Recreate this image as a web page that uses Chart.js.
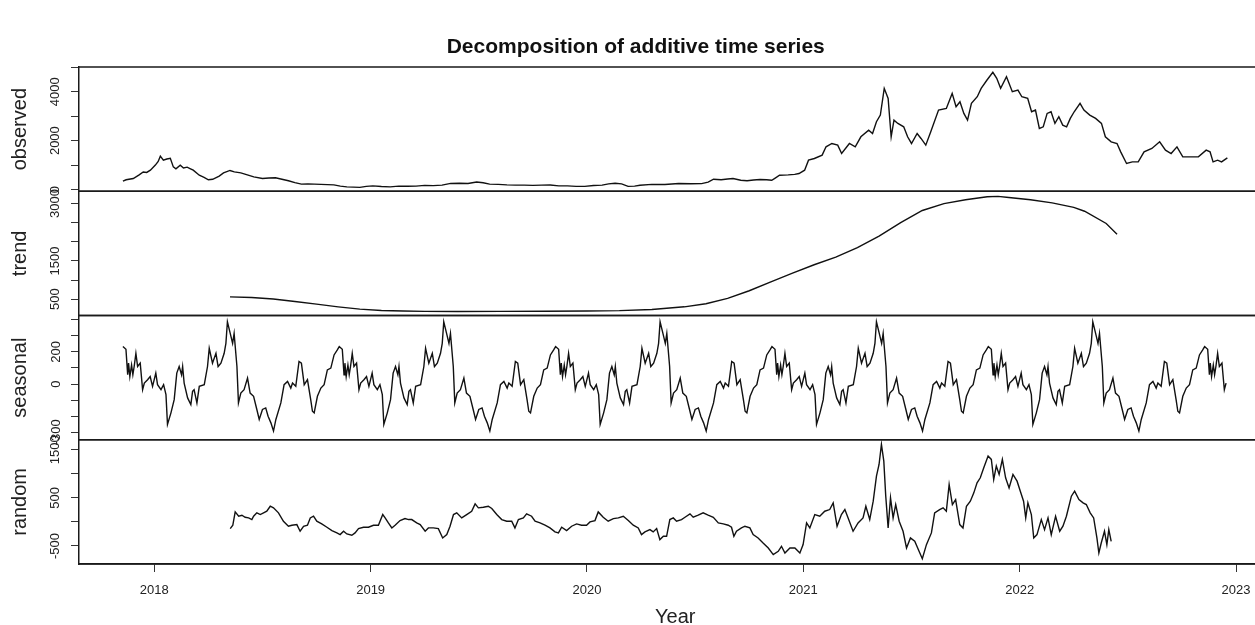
<!DOCTYPE html>
<html><head><meta charset="utf-8">
<script src="https://cdn.jsdelivr.net/npm/chart.js@4.4.1/dist/chart.umd.min.js"></script>
<style>html,body{margin:0;padding:0;overflow:hidden;background:#fff;width:1255px;height:625px}canvas{display:block}</style>
</head><body><canvas id="c" width="1304" height="625"></canvas>
<script>
// ---------- data ----------
const obsTime = [2017.855,2017.870,2017.903,2017.930,2017.949,2017.965,2017.982,2018.005,2018.018,2018.028,2018.042,2018.058,2018.074,2018.088,2018.100,2018.120,2018.135,2018.152,2018.165,2018.180,2018.208,2018.230,2018.250,2018.270,2018.300,2018.320,2018.350,2018.370,2018.400,2018.430,2018.460,2018.500,2018.530,2018.560,2018.590,2018.620,2018.650,2018.680,2018.710,2018.740,2018.770,2018.800,2018.830,2018.860,2018.890,2018.920,2018.950,2018.980,2019.010,2019.050,2019.090,2019.130,2019.170,2019.210,2019.250,2019.290,2019.330,2019.370,2019.410,2019.450,2019.490,2019.520,2019.550,2019.590,2019.630,2019.670,2019.710,2019.750,2019.790,2019.830,2019.870,2019.910,2019.950,2019.990,2020.030,2020.070,2020.100,2020.130,2020.160,2020.190,2020.220,2020.245,2020.300,2020.360,2020.424,2020.480,2020.530,2020.560,2020.585,2020.620,2020.650,2020.675,2020.711,2020.740,2020.770,2020.800,2020.830,2020.854,2020.870,2020.890,2020.930,2020.960,2020.980,2021.006,2021.024,2021.051,2021.087,2021.105,2021.132,2021.159,2021.177,2021.213,2021.240,2021.266,2021.302,2021.320,2021.338,2021.356,2021.374,2021.392,2021.406,2021.419,2021.437,2021.464,2021.482,2021.500,2021.526,2021.544,2021.566,2021.589,2021.625,2021.661,2021.688,2021.706,2021.724,2021.742,2021.759,2021.777,2021.804,2021.822,2021.849,2021.876,2021.894,2021.912,2021.939,2021.966,2021.992,2022.010,2022.037,2022.055,2022.073,2022.091,2022.109,2022.127,2022.145,2022.163,2022.181,2022.199,2022.217,2022.234,2022.252,2022.279,2022.297,2022.324,2022.351,2022.378,2022.396,2022.423,2022.450,2022.467,2022.494,2022.521,2022.548,2022.575,2022.611,2022.647,2022.674,2022.700,2022.727,2022.754,2022.790,2022.826,2022.862,2022.880,2022.894,2022.915,2022.933,2022.960];
const obsValue = [340,400,450,600,720,700,790,1000,1150,1365,1200,1250,1280,926,850,996,880,914,860,791,586,500,400,420,550,680,780,720,680,600,520,450,470,480,420,360,280,220,230,220,210,200,190,140,110,100,90,130,150,125,110,140,135,140,170,160,180,250,260,250,310,280,220,210,190,180,180,170,180,185,150,150,130,130,165,180,230,260,230,130,140,176,210,205,245,235,240,300,422,400,430,449,381,360,390,410,400,381,470,586,600,620,654,791,1200,1269,1406,1747,1884,1816,1474,1884,1747,2157,2430,2294,2772,3045,4138,3728,2157,2840,2704,2567,2157,1884,2294,2089,1816,2362,3250,3318,3933,3387,3592,3113,2840,3523,3796,4138,4480,4794,4548,4138,4616,4001,4070,3796,3728,3181,3250,2499,2567,3113,3181,2704,2977,2635,2567,2909,3181,3523,3250,3045,2909,2704,2157,1952,1884,1542,1064,1133,1133,1542,1679,1952,1610,1474,1747,1337,1337,1337,1610,1542,1133,1201,1133,1296];

const trendTime  = [2018.35,2018.45,2018.55,2018.65,2018.75,2018.85,2018.95,2019.05,2019.15,2019.25,2019.40,2019.60,2019.80,2020.00,2020.15,2020.30,2020.45,2020.55,2020.65,2020.75,2020.85,2020.95,2021.05,2021.15,2021.25,2021.35,2021.45,2021.55,2021.65,2021.75,2021.85,2021.90,2021.95,2022.05,2022.15,2022.25,2022.30,2022.40,2022.45];
const trendValue = [560,545,505,440,370,300,240,205,190,180,178,180,185,190,200,230,300,380,520,720,950,1180,1400,1600,1850,2150,2500,2820,3000,3100,3180,3190,3160,3100,3020,2900,2800,2480,2200];

// one seasonal cycle (phase = years since the start of the series)
const seasonalPhase  = [0,0.014,0.022,0.026,0.032,0.040,0.046,0.052,0.060,0.068,0.080,0.091,0.099,0.114,0.126,0.137,0.152,0.160,0.176,0.188,0.199,0.206,0.222,0.237,0.249,0.260,0.271,0.276,0.283,0.299,0.314,0.322,0.329,0.342,0.353,0.376,0.391,0.399,0.414,0.430,0.440,0.453,0.468,0.476,0.483,0.496,0.507,0.514,0.527,0.534,0.545,0.560,0.576,0.588,0.604,0.619,0.630,0.645,0.660,0.671,0.684,0.696,0.707,0.730,0.745,0.761,0.776,0.784,0.799,0.814,0.825,0.838,0.853,0.868,0.876,0.884,0.899,0.915,0.930,0.945,0.961,0.976,0.991];
const seasonalFigure = [233,216,58,130,47,119,58,109,191,109,130,-35,6,27,47,-14,68,-4,-35,-4,-66,-251,-179,-97,68,109,58,109,6,-86,-128,-45,-35,-117,-14,-4,109,222,130,191,109,130,191,253,387,315,253,315,109,-117,-56,-35,37,-56,-76,-158,-220,-158,-148,-200,-241,-292,-220,-117,-4,16,-25,6,-14,140,130,-4,27,-97,-169,-179,-76,-25,-4,88,99,181,212];

const randomTime  = [2018.351,2018.363,2018.374,2018.390,2018.405,2018.420,2018.436,2018.451,2018.459,2018.474,2018.490,2018.505,2018.520,2018.536,2018.551,2018.574,2018.597,2018.620,2018.636,2018.659,2018.674,2018.690,2018.708,2018.721,2018.736,2018.751,2018.774,2018.798,2018.821,2018.844,2018.859,2018.875,2018.890,2018.913,2018.928,2018.944,2018.967,2018.990,2019.013,2019.036,2019.056,2019.067,2019.082,2019.098,2019.113,2019.136,2019.159,2019.175,2019.190,2019.213,2019.229,2019.252,2019.267,2019.290,2019.313,2019.333,2019.352,2019.367,2019.383,2019.398,2019.421,2019.444,2019.467,2019.483,2019.498,2019.521,2019.544,2019.560,2019.583,2019.606,2019.629,2019.652,2019.667,2019.683,2019.706,2019.721,2019.744,2019.760,2019.783,2019.806,2019.829,2019.852,2019.868,2019.883,2019.906,2019.929,2019.952,2019.975,2019.998,2020.014,2020.037,2020.052,2020.075,2020.098,2020.122,2020.145,2020.168,2020.191,2020.214,2020.237,2020.252,2020.268,2020.291,2020.306,2020.322,2020.337,2020.353,2020.368,2020.383,2020.399,2020.414,2020.437,2020.453,2020.476,2020.491,2020.514,2020.537,2020.560,2020.584,2020.607,2020.630,2020.653,2020.668,2020.679,2020.691,2020.714,2020.730,2020.753,2020.768,2020.791,2020.814,2020.838,2020.861,2020.884,2020.899,2020.915,2020.938,2020.961,2020.984,2020.999,2021.015,2021.030,2021.053,2021.076,2021.099,2021.122,2021.138,2021.156,2021.176,2021.192,2021.207,2021.230,2021.253,2021.276,2021.289,2021.307,2021.323,2021.338,2021.350,2021.361,2021.372,2021.381,2021.392,2021.403,2021.415,2021.427,2021.443,2021.461,2021.477,2021.495,2021.515,2021.535,2021.550,2021.569,2021.592,2021.607,2021.630,2021.646,2021.661,2021.674,2021.689,2021.704,2021.723,2021.738,2021.754,2021.772,2021.788,2021.803,2021.818,2021.834,2021.854,2021.869,2021.880,2021.892,2021.905,2021.920,2021.935,2021.951,2021.969,2021.988,2022.003,2022.018,2022.028,2022.038,2022.054,2022.065,2022.080,2022.100,2022.115,2022.131,2022.146,2022.166,2022.185,2022.200,2022.216,2022.239,2022.254,2022.274,2022.293,2022.308,2022.326,2022.342,2022.357,2022.366,2022.377,2022.392,2022.403,2022.412,2022.423];
const randomValue = [-139,-69,208,118,139,97,83,49,118,188,153,188,222,326,292,188,14,-90,-69,-56,-194,-90,-69,83,118,14,-42,-111,-181,-229,-264,-194,-250,-278,-229,-139,-111,-111,-69,-69,153,83,-21,-125,-69,28,69,49,49,-21,-56,-194,-125,-125,-139,-333,-264,-90,153,188,83,153,222,375,292,306,326,278,153,49,14,14,-125,49,83,167,118,14,-21,-69,-125,-208,-229,-111,-181,-90,-42,-69,-69,0,28,208,97,14,69,83,118,28,-69,-125,-264,-208,-160,-208,-139,-368,-299,-299,49,83,14,49,97,167,97,139,188,139,97,-21,-42,-69,-111,-299,-194,-125,-90,-125,-264,-333,-438,-542,-681,-611,-507,-646,-542,-542,-646,-472,-21,-125,153,118,222,257,396,-90,153,257,83,-194,-21,83,326,49,431,951,1194,1611,1264,535,-125,500,83,361,14,-194,-542,-333,-403,-611,-764,-472,-229,188,257,292,222,778,361,465,-56,-125,326,431,604,813,917,1125,1368,1299,882,1160,986,1299,917,708,986,847,639,431,83,396,153,-333,-264,49,-160,83,-264,118,-194,-90,118,535,639,465,396,361,188,83,-333,-646,-438,-194,-472,-160,-403];

// axis ticks and labels
const yearTicks = [2018,2019,2020,2021,2022,2023];
const obsTicks = [0,1000,2000,3000,4000,5000],   obsLabels = [0,2000,4000];
const trendTicks = [500,1000,1500,2000,2500,3000], trendLabels = [500,1500,3000];
const seasTicks = [-300,-200,-100,0,100,200,300,400], seasLabels = [-300,0,200];
const randTicks = [-500,0,500,1000,1500], randLabels = [-500,500,1500];

// ---------- build ----------
const FAMILY = '"Liberation Sans", Arial, Helvetica, sans-serif';
const INK = '#1a1a1a';
const pts = (ts, vs) => ts.map((t, i) => ({x: t, y: vs[i]}));
const seriesStart = obsTime[0], seriesEnd = obsTime[obsTime.length - 1];
const seasonalPoints = [];
for (let k = 0; k < 6; k++) {
  seasonalPhase.forEach((p, j) => {
    const t = seriesStart + k + p;
    if (t <= seriesEnd) seasonalPoints.push({x: t, y: seasonalFigure[j]});
  });
}

function panelAxis(weight, min, max, ticks, labels, title) {
  return {
    type: 'linear', position: 'left', stack: 'panels', stackWeight: 1, weight,
    min, max,
    afterBuildTicks: s => { s.ticks = ticks.map(v => ({value: v})); },
    afterFit: s => { s.width = 79; },
    ticks: {
      callback: v => labels.includes(v) ? String(v) : '',
      minRotation: 90, maxRotation: 90, crossAlign: 'center', padding: 1.5,
      autoSkip: false, font: {size: 13, family: FAMILY}, color: '#222'
    },
    grid: {drawOnChartArea: false, drawTicks: true, tickLength: 8, color: '#333', lineWidth: 1},
    border: {display: true, color: INK, width: 1.5},
    title: {display: true, text: title, font: {size: 20, family: FAMILY}, color: '#222', padding: {top: 8, bottom: 0}}
  };
}

const panelBox = {
  id: 'panelBox',
  afterDatasetsDraw(chart) {
    const ctx = chart.ctx, {left, right} = chart.chartArea;
    ctx.save();
    ctx.strokeStyle = INK; ctx.lineWidth = 1.5;
    ['yObs', 'yTrend', 'ySeas', 'yRand'].forEach(id => {
      const s = chart.scales[id];
      ctx.beginPath();
      ctx.moveTo(left, s.top); ctx.lineTo(right, s.top);
      ctx.moveTo(left, s.bottom); ctx.lineTo(right, s.bottom);
      ctx.stroke();
    });
    ctx.beginPath(); ctx.moveTo(right, chart.chartArea.top); ctx.lineTo(right, chart.chartArea.bottom); ctx.stroke();
    ctx.restore();
  }
};

const line = (data, axis) => ({data, yAxisID: axis, xAxisID: 'x', borderColor: '#111', borderWidth: 1.4,
  pointRadius: 0, tension: 0, fill: false, spanGaps: false});

new Chart(document.getElementById('c'), {
  type: 'line',
  data: {datasets: [
    line(pts(obsTime, obsValue), 'yObs'),
    line(pts(trendTime, trendValue), 'yTrend'),
    line(seasonalPoints, 'ySeas'),
    line(pts(randomTime, randomValue), 'yRand')
  ]},
  options: {
    responsive: false, animation: false, devicePixelRatio: 1,
    layout: {padding: {left: 0, right: 32.5, top: 0, bottom: 0}},
    plugins: {
      legend: {display: false}, tooltip: {enabled: false},
      title: {display: true, text: 'Decomposition of additive time series',
        font: {size: 21, weight: 'bold', family: FAMILY}, color: '#111',
        padding: {top: 34.4, bottom: 7.4}}
    },
    scales: {
      x: {
        type: 'linear', position: 'bottom', min: 2017.652, max: 2023.164,
        afterBuildTicks: s => { s.ticks = yearTicks.map(v => ({value: v})); },
        afterFit: s => { s.height = 61; },
        ticks: {callback: v => String(v), autoSkip: false, maxRotation: 0, padding: 11,
          font: {size: 13, family: FAMILY}, color: '#222'},
        grid: {drawOnChartArea: false, drawTicks: true, tickLength: 8, color: '#333'},
        border: {display: true, color: INK, width: 1.5},
        title: {display: true, text: 'Year', font: {size: 20, family: FAMILY, lineHeight: 0.8}, color: '#222', padding: {top: 0, bottom: 0}}
      },
      yRand: panelAxis(1, -875, 1708, randTicks, randLabels, 'random'),
      ySeas: panelAxis(2, -346, 426, seasTicks, seasLabels, 'seasonal'),
      yTrend: panelAxis(3, 73, 3323, trendTicks, trendLabels, 'trend'),
      yObs: panelAxis(4, -70, 5012, obsTicks, obsLabels, 'observed')
    }
  },
  plugins: [panelBox]
});
</script></body></html>
